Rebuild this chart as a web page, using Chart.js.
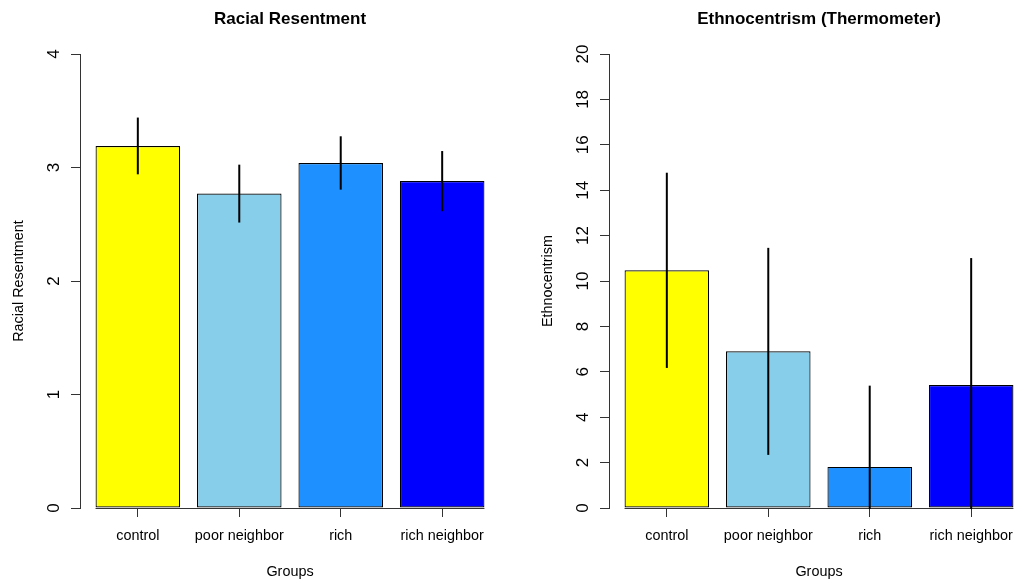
<!DOCTYPE html>
<html>
<head>
<meta charset="utf-8">
<script src="https://cdn.jsdelivr.net/npm/chart.js@4/dist/chart.umd.min.js"></script>
<style>
  html, body { margin: 0; padding: 0; background: #fff; }
  body { width: 1014px; height: 581px; overflow: hidden; position: relative; }
  canvas { position: absolute; top: 0; }
  #left { left: 0; }
  #right { left: 529px; }
</style>
</head>
<body>
<canvas id="left" width="507" height="581"></canvas>
<canvas id="right" width="507" height="581"></canvas>
<script>
// groups and bar colours (shared by both panels)
const groups = ['control', 'poor neighbor', 'rich', 'rich neighbor'];
const barColors = ['#FFFF00', '#87CEEB', '#1E90FF', '#0000FF'];

// panel 1: racial resentment, mean and half-width of the error bar
const rrMeans = [3.19, 2.77, 3.04, 2.88];
const rrErr = [0.25, 0.255, 0.235, 0.265];
const rrTicks = [0, 1, 2, 3, 4];

// panel 2: ethnocentrism thermometer
const ethMeans = [10.47, 6.90, 1.81, 5.42];
const ethErr = [4.30, 4.56, 3.58, 5.59];
const ethTicks = [0, 2, 4, 6, 8, 10, 12, 14, 16, 18, 20];

Chart.defaults.font.family = '"Liberation Sans", Arial, sans-serif';
Chart.defaults.color = '#000';

function makePanel(id, title, yTitle, means, err, yTicks) {
  // R-style extras: rotated tick labels, error bars, titles
  const rFrame = {
    id: 'rFrame',
    afterDatasetsDraw(chart) {
      const ctx = chart.ctx;
      const ca = chart.chartArea;
      const y = chart.scales.y;
      const bars = chart.getDatasetMeta(0).data;
      const y0 = Math.round(y.getPixelForValue(0)) + 0.5;
      ctx.save();
      ctx.strokeStyle = '#333';
      ctx.lineWidth = 1;
      ctx.beginPath();
      ctx.moveTo(bars[0].x - bars[0].width / 2, y0);
      ctx.lineTo(bars[bars.length - 1].x + bars[bars.length - 1].width / 2, y0);
      ctx.stroke();
      ctx.beginPath();
      ctx.rect(ca.left, ca.top, ca.right - ca.left, ca.bottom - ca.top + 1);
      ctx.clip();
      ctx.strokeStyle = '#000';
      ctx.lineWidth = 2;
      means.forEach((m, i) => {
        ctx.beginPath();
        ctx.moveTo(bars[i].x, y.getPixelForValue(m - err[i]));
        ctx.lineTo(bars[i].x, y.getPixelForValue(m + err[i]));
        ctx.stroke();
      });
      ctx.restore();
    },
    afterDraw(chart) {
      const ctx = chart.ctx;
      const ca = chart.chartArea;
      const y = chart.scales.y;
      const cx = (ca.left + ca.right) / 2;
      ctx.save();
      ctx.fillStyle = '#000';
      ctx.textAlign = 'center';
      ctx.font = 'bold 17px "Liberation Sans", Arial, sans-serif';
      ctx.textBaseline = 'alphabetic';
      ctx.fillText(title, cx, 24);
      ctx.font = '14.4px "Liberation Sans", Arial, sans-serif';
      ctx.fillText('Groups', cx, ca.bottom + 67.5);
      ctx.textBaseline = 'middle';
      ctx.save();
      ctx.translate(ca.left - 61, (ca.top + ca.bottom) / 2);
      ctx.rotate(-Math.PI / 2);
      ctx.fillText(yTitle, 0, 0);
      ctx.restore();
      ctx.font = '17px "Liberation Sans", Arial, sans-serif';
      y.ticks.forEach(t => {
        ctx.save();
        ctx.translate(ca.left - 26, y.getPixelForValue(t.value));
        ctx.rotate(-Math.PI / 2);
        ctx.fillText(String(t.value), 0, 0);
        ctx.restore();
      });
      ctx.restore();
    }
  };

  return new Chart(document.getElementById(id), {
    type: 'bar',
    data: {
      datasets: [{
        data: groups.map((g, i) => ({ x: i, y: means[i] })),
        backgroundColor: barColors,
        borderColor: '#000',
        borderWidth: 1.2,
        borderSkipped: false,
        barPercentage: 1 / 1.2,
        categoryPercentage: 1
      }]
    },
    options: {
      responsive: false,
      animation: false,
      events: [],
      layout: { padding: { top: 54, right: 7, bottom: 0, left: 0 } },
      plugins: { legend: { display: false }, tooltip: { enabled: false } },
      scales: {
        x: {
          type: 'linear',
          offset: false,
          min: -0.57,
          max: 3.57,
          afterBuildTicks: s => { s.ticks = groups.map((g, i) => ({ value: i })); },
          afterFit: s => { s.height = 73; },
          ticks: {
            callback: v => groups[v],
            autoSkip: false,
            maxRotation: 0,
            padding: 10,
            font: { size: 14.4 }
          },
          grid: { offset: false, drawOnChartArea: false, drawTicks: true, tickLength: 9, color: '#333' },
          border: { display: false }
        },
        y: {
          min: yTicks[0],
          max: yTicks[yTicks.length - 1],
          afterBuildTicks: s => { s.ticks = yTicks.map(v => ({ value: v })); },
          afterFit: s => { s.width = 80; },
          ticks: { display: false },
          grid: { drawOnChartArea: false, drawTicks: true, tickLength: 9, color: '#333' },
          border: { display: true, color: '#333', width: 1 }
        }
      }
    },
    plugins: [rFrame]
  });
}

makePanel('left', 'Racial Resentment', 'Racial Resentment', rrMeans, rrErr, rrTicks);
makePanel('right', 'Ethnocentrism (Thermometer)', 'Ethnocentrism', ethMeans, ethErr, ethTicks);
</script>
</body>
</html>
